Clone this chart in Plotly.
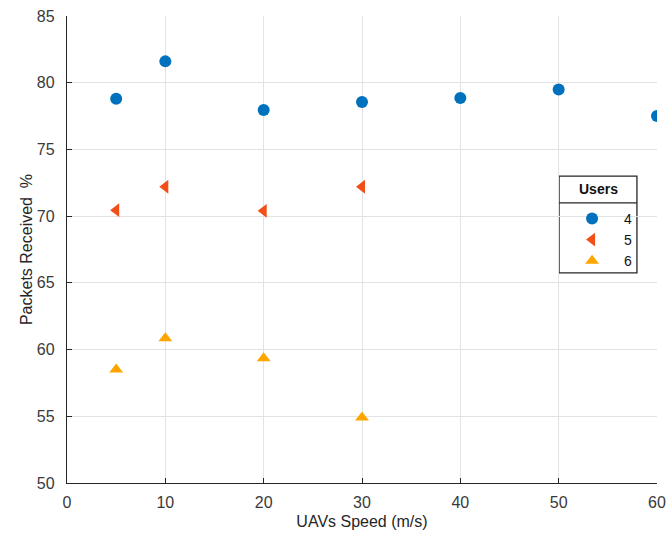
import plotly.graph_objects as go

speed_4 = [5, 10, 20, 30, 40, 50, 60]
recv_4 = [78.8, 81.6, 77.95, 78.55, 78.85, 79.5, 77.5]
speed_5 = [5, 10, 20, 30]
recv_5 = [70.45, 72.2, 70.4, 72.2]
speed_6 = [5, 10, 20, 30]
recv_6 = [58.5, 60.85, 59.35, 54.9]
user_labels = ["4", "5", "6"]
legend_title = "Users"
x_ticks = [0, 10, 20, 30, 40, 50, 60]
y_ticks = [50, 55, 60, 65, 70, 75, 80, 85]

fig = go.Figure()
fig.add_trace(go.Scatter(x=speed_4, y=recv_4, mode="markers", name=user_labels[0],
                         marker=dict(symbol="circle", size=12, color="#0072BD")))
fig.add_trace(go.Scatter(x=speed_5, y=recv_5, mode="markers", name=user_labels[1],
                         marker=dict(symbol="triangle-left", size=12, color="#F24E17")))
fig.add_trace(go.Scatter(x=speed_6, y=recv_6, mode="markers", name=user_labels[2],
                         marker=dict(symbol="triangle-up", size=12, color="#FFA500")))

axis_common = dict(showgrid=True, gridcolor="#E3E3E3", gridwidth=1, zeroline=False,
                   showline=True, linecolor="#262626", linewidth=1.3,
                   ticks="inside", ticklen=5, tickcolor="#262626",
                   tickfont=dict(family="Liberation Sans, Arial", size=16, color="#3a3a3a"),
                   mirror=False, automargin=False)

# legend box (paper coords)
bx0, bx1 = 0.834, 0.966
by_top, by_sep, by_bot = 0.657, 0.600, 0.450

fig.add_shape(type="rect", xref="paper", yref="paper", x0=bx0, x1=bx1, y0=by_bot, y1=by_top,
              line=dict(color="#262626", width=1.3), fillcolor="white", layer="between")
fig.add_shape(type="line", xref="paper", yref="paper", x0=bx0, x1=bx1, y0=by_sep, y1=by_sep,
              line=dict(color="#262626", width=1.3), layer="between")
fig.add_annotation(xref="paper", yref="paper", x=(bx0 + bx1) / 2, y=(by_top + by_sep) / 2,
                   text="<b>" + legend_title + "</b>", showarrow=False,
                   font=dict(family="Liberation Sans, Arial", size=14, color="#111111"),
                   xanchor="center", yanchor="middle")

fig.update_layout(
    width=666, height=542,
    margin=dict(l=67, r=9, t=16, b=59),
    paper_bgcolor="white", plot_bgcolor="white",
    font=dict(family="Liberation Sans, Arial", color="#262626"),
    xaxis=dict(range=[0, 60], tickvals=x_ticks, ticklabelstandoff=5,
               title=dict(text="UAVs Speed (m/s)", font=dict(size=16, color="#262626"), standoff=5),
               **axis_common),
    yaxis=dict(range=[50, 85], tickvals=y_ticks, ticklabelstandoff=8,
               title=dict(text="Packets Received  %", font=dict(size=16, color="#262626"), standoff=0),
               **axis_common),
    legend=dict(x=0.8357, y=0.600, xanchor="left", yanchor="top",
                bgcolor="rgba(0,0,0,0)", borderwidth=0,
                font=dict(family="Liberation Sans, Arial", size=14, color="#111111"),
                itemwidth=54, tracegroupgap=0),
    showlegend=True,
)

fig.write_html("out.html", config={"displayModeBar": False},
               post_script="document.body.style.margin='0';document.body.style.overflow='hidden';")
